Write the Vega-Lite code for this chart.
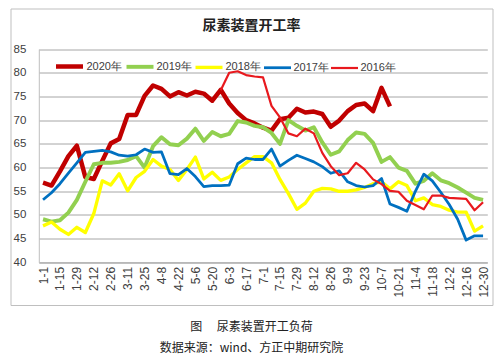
{
  "$schema": "https://vega.github.io/schema/vega-lite/v6.json",
  "background": "white",
  "padding": {"left": 9.5, "top": 7.5, "right": 0, "bottom": 0},
  "title": {
    "text": "图　 尿素装置开工负荷",
    "subtitle": "数据来源：wind、方正中期研究院",
    "orient": "bottom",
    "anchor": "middle",
    "offset": 16,
    "font": "Noto Sans CJK SC",
    "fontSize": 12,
    "fontWeight": "normal",
    "color": "#222222",
    "subtitleFont": "Noto Sans CJK SC",
    "subtitleFontSize": 12,
    "subtitleColor": "#222222",
    "subtitlePadding": 9
  },
  "vconcat": [
    {
      "width": 482,
      "height": 296.5,
      "title": {
        "text": "尿素装置开工率",
        "offset": -24,
        "anchor": "middle",
        "font": "Noto Sans CJK SC",
        "fontSize": 14,
        "fontWeight": "bold",
        "color": "#222222"
      },
      "data": {
        "values": [
          {"d": "1-1", "2020年": 56.8, "2019年": 49.1, "2018年": 47.7, "2017年": 53.2},
          {"d": "1-8", "2020年": 56.2, "2019年": 48.6, "2018年": 48.5, "2017年": 54.7},
          {"d": "1-15", "2020年": 59.2, "2019年": 48.9, "2018年": 47.0, "2017年": 56.6},
          {"d": "1-22", "2020年": 62.4, "2019年": 50.5, "2018年": 45.9, "2017年": 58.8},
          {"d": "1-29", "2020年": 64.6, "2019年": 53.2, "2018年": 47.4, "2017年": 61.0},
          {"d": "2-5", "2020年": 58.0, "2019年": 57.0, "2018年": 46.3, "2017年": 63.2},
          {"d": "2-12", "2020年": 57.6, "2019年": 60.7, "2018年": 50.3, "2017年": 63.4},
          {"d": "2-19", "2020年": 61.4, "2019年": 61.0, "2018年": 57.2, "2017年": 63.6},
          {"d": "2-26", "2020年": 65.1, "2019年": 61.0, "2018年": 56.3, "2017年": 63.3},
          {"d": "3-4", "2020年": 66.0, "2019年": 61.2, "2018年": 58.7, "2017年": 62.6},
          {"d": "3-11", "2020年": 71.1, "2019年": 61.6, "2018年": 55.1, "2017年": 62.4},
          {"d": "3-18", "2020年": 71.1, "2019年": 62.4, "2018年": 57.9, "2017年": 62.7},
          {"d": "3-25", "2020年": 75.1, "2019年": 60.0, "2018年": 59.2, "2017年": 63.9},
          {"d": "4-1", "2020年": 77.3, "2019年": 64.5, "2018年": 61.7, "2017年": 63.2},
          {"d": "4-8", "2020年": 76.6, "2019年": 66.4, "2018年": 60.3, "2017年": 63.3},
          {"d": "4-15", "2020年": 75.0, "2019年": 64.9, "2018年": 59.6, "2017年": 58.7},
          {"d": "4-22", "2020年": 75.9, "2019年": 64.7, "2018年": 57.3, "2017年": 58.5},
          {"d": "4-29", "2020年": 75.2, "2019年": 66.1, "2018年": 59.6, "2017年": 59.8},
          {"d": "5-6", "2020年": 76.0, "2019年": 68.2, "2018年": 62.2, "2017年": 58.1},
          {"d": "5-13", "2020年": 75.6, "2019年": 65.6, "2018年": 57.6, "2017年": 56.0},
          {"d": "5-20", "2020年": 74.1, "2019年": 67.5, "2018年": 59.0, "2017年": 56.2},
          {"d": "5-27", "2020年": 76.4, "2019年": 66.6, "2018年": 57.3, "2017年": 56.2, "2016年": 76.3},
          {"d": "6-3", "2020年": 73.5, "2019年": 67.1, "2018年": 58.0, "2017年": 56.3, "2016年": 80.0},
          {"d": "6-10", "2020年": 71.5, "2019年": 69.8, "2018年": 59.6, "2017年": 60.8, "2016年": 80.3},
          {"d": "6-17", "2020年": 70.0, "2019年": 69.5, "2018年": 61.0, "2017年": 62.0, "2016年": 79.5},
          {"d": "6-24", "2020年": 69.3, "2019年": 68.8, "2018年": 62.3, "2017年": 61.7, "2016年": 79.2},
          {"d": "7-1", "2020年": 68.4, "2019年": 68.5, "2018年": 62.3, "2017年": 61.7, "2016年": 79.0},
          {"d": "7-8", "2020年": 67.8, "2019年": 67.3, "2018年": 61.0, "2017年": 63.9, "2016年": 73.0},
          {"d": "7-15", "2020年": 70.2, "2019年": 65.0, "2018年": 57.5, "2017年": 60.3, "2016年": 70.6},
          {"d": "7-22", "2020年": 70.5, "2019年": 70.0, "2018年": 54.5, "2017年": 61.5, "2016年": 67.2},
          {"d": "7-29", "2020年": 72.4, "2019年": 68.8, "2018年": 51.2, "2017年": 62.6, "2016年": 66.6},
          {"d": "8-5", "2020年": 71.6, "2019年": 67.8, "2018年": 52.5, "2017年": 61.9, "2016年": 68.2},
          {"d": "8-12", "2020年": 71.8, "2019年": 68.5, "2018年": 55.0, "2017年": 61.2, "2016年": 67.2},
          {"d": "8-19", "2020年": 71.3, "2019年": 65.3, "2018年": 55.6, "2017年": 60.2, "2016年": 63.1},
          {"d": "8-26", "2020年": 68.6, "2019年": 62.7, "2018年": 55.5, "2017年": 58.8, "2016年": 60.3},
          {"d": "9-2", "2020年": 69.9, "2019年": 63.4, "2018年": 55.0, "2017年": 59.3, "2016年": 58.4},
          {"d": "9-9", "2020年": 71.9, "2019年": 65.8, "2018年": 55.0, "2017年": 57.0, "2016年": 58.8},
          {"d": "9-16", "2020年": 73.2, "2019年": 67.4, "2018年": 55.3, "2017年": 56.2, "2016年": 61.0},
          {"d": "9-23", "2020年": 73.5, "2019年": 67.1, "2018年": 55.8, "2017年": 55.9, "2016年": 59.6},
          {"d": "9-30", "2020年": 71.9, "2019年": 65.2, "2018年": 56.6, "2017年": 56.2, "2016年": 57.5},
          {"d": "10-7", "2020年": 76.8, "2019年": 61.2, "2018年": 57.0, "2017年": 57.7, "2016年": 56.5},
          {"d": "10-14", "2020年": 72.9, "2019年": 62.2, "2018年": 55.5, "2017年": 52.3, "2016年": 55.1},
          {"d": "10-21", "2019年": 60.0, "2018年": 57.0, "2017年": 51.6, "2016年": 54.9},
          {"d": "10-28", "2019年": 59.3, "2018年": 56.2, "2017年": 50.8, "2016年": 53.0},
          {"d": "11-4", "2019年": 56.6, "2018年": 53.0, "2017年": 55.0, "2016年": 52.1},
          {"d": "11-11", "2019年": 57.2, "2018年": 53.6, "2017年": 58.6, "2016年": 51.2},
          {"d": "11-18", "2019年": 58.8, "2018年": 52.2, "2017年": 57.2, "2016年": 54.1},
          {"d": "11-25", "2019年": 57.3, "2018年": 51.8, "2017年": 54.8, "2016年": 54.1},
          {"d": "12-2", "2019年": 56.7, "2018年": 51.0, "2017年": 52.2, "2016年": 53.6},
          {"d": "12-9", "2019年": 55.8, "2018年": 50.6, "2017年": 49.1, "2016年": 53.5},
          {"d": "12-16", "2019年": 54.7, "2018年": 50.6, "2017年": 44.7, "2016年": 53.4},
          {"d": "12-23", "2019年": 53.6, "2018年": 46.6, "2017年": 45.6, "2016年": 51.0},
          {"d": "12-30", "2019年": 53.2, "2018年": 47.7, "2017年": 45.6, "2016年": 52.7}
        ]
      },
      "transform": [
        {"fold": ["2020年", "2019年", "2018年", "2017年", "2016年"], "as": ["s", "v"]}
      ],
      "mark": {"type": "line", "strokeJoin": "round", "strokeCap": "butt"},
      "encoding": {
        "x": {
          "field": "d",
          "type": "ordinal",
          "sort": null,
          "scale": {"type": "point", "padding": 0.5, "range": [28.3, 476.8]},
          "axis": {
            "title": null,
            "values": ["1-1", "1-15", "1-29", "2-12", "2-26", "3-11", "3-25", "4-8", "4-22", "5-6", "5-20", "6-3", "6-17", "7-1", "7-15", "7-29", "8-12", "8-26", "9-9", "9-23", "10-7", "10-21", "11-4", "11-18", "12-2", "12-16", "12-30"],
            "offset": -42.6,
            "labelAngle": -90,
            "labelAlign": "right",
            "labelBaseline": "middle",
            "labelPadding": 4,
            "ticks": false,
            "grid": false,
            "domainColor": "#a6a6a6",
            "labelFontSize": 12,
            "labelColor": "#404040",
            "labelFont": "Liberation Sans"
          }
        },
        "y": {
          "field": "v",
          "type": "quantitative",
          "scale": {"domain": [40, 85], "range": [253.9, 40.5], "nice": false, "zero": false},
          "axis": {
            "title": null,
            "values": [40, 45, 50, 55, 60, 65, 70, 75, 80, 85],
            "offset": -28.3,
            "ticks": false,
            "labelPadding": 13,
            "domainColor": "#bfbfbf",
            "grid": true,
            "gridColor": "#a6a6a6",
            "labelFontSize": 11.5,
            "labelColor": "#404040",
            "labelFont": "Liberation Sans"
          }
        },
        "color": {
          "field": "s",
          "type": "nominal",
          "scale": {
            "domain": ["2020年", "2019年", "2018年", "2017年", "2016年"],
            "range": ["#c00000", "#92d050", "#ffff00", "#0070c0", "#e8191e"]
          },
          "legend": {
            "title": null,
            "orient": "none",
            "legendX": 43,
            "legendY": 42,
            "direction": "horizontal",
            "symbolType": "stroke",
            "symbolSize": 729,
            "labelOffset": 1,
            "columnPadding": -4,
            "labelFontSize": 11,
            "labelColor": "#404040",
            "labelFont": "Liberation Sans"
          }
        },
        "strokeWidth": {
          "field": "s",
          "type": "nominal",
          "scale": {
            "domain": ["2020年", "2019年", "2018年", "2017年", "2016年"],
            "range": [4.5, 2.2, 2.2, 2.5, 1.4]
          },
          "legend": {
            "title": null,
            "orient": "none",
            "legendX": 43,
            "legendY": 42,
            "direction": "horizontal",
            "symbolType": "stroke",
            "symbolSize": 729,
            "labelOffset": 1,
            "columnPadding": -4,
            "labelFontSize": 11,
            "labelColor": "#404040",
            "labelFont": "Liberation Sans"
          }
        }
      }
    }
  ],
  "config": {
    "font": "Liberation Sans",
    "view": {"stroke": "#bfbfbf", "strokeWidth": 1}
  }
}
